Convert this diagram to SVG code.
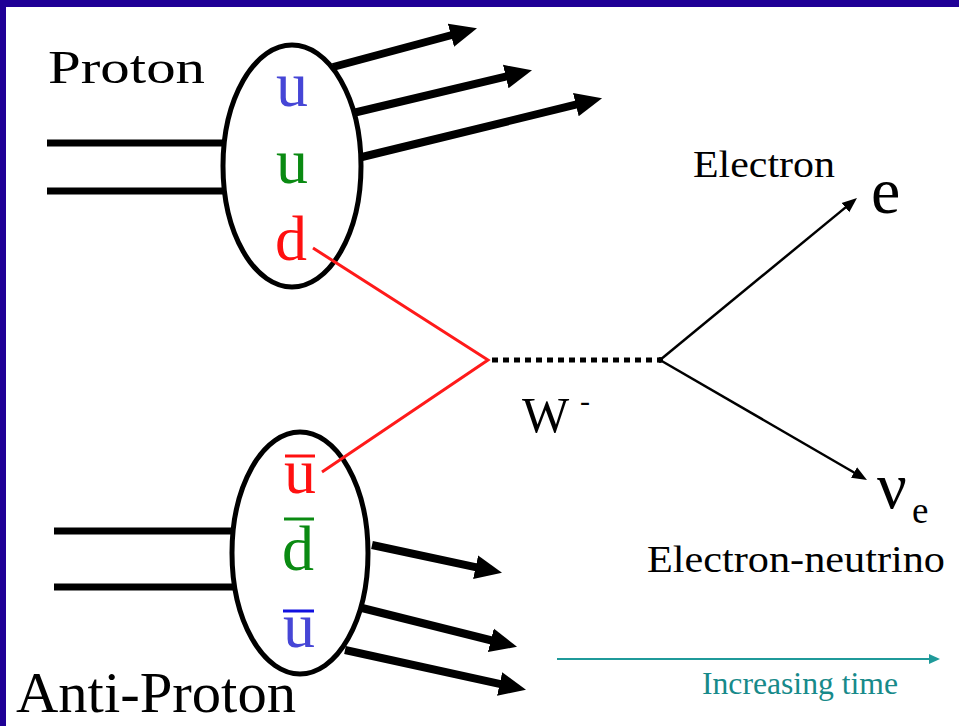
<svg xmlns="http://www.w3.org/2000/svg" width="959" height="726" viewBox="0 0 959 726">
<style>
.lbl{font-family:"Liberation Serif","Times New Roman",serif;fill:#000}
.q{font-family:"Liberation Serif","Times New Roman",serif;font-size:64px}
.blue{fill:#4646d6}
.green{fill:#0a8a12}
.red{fill:#ff1010}
.beam{stroke:#000;stroke-width:7;fill:none}
.had{fill:#fff;stroke:#000;stroke-width:5}
.jet{stroke:#000;stroke-width:8;fill:none;marker-end:url(#big)}
.lep{stroke:#000;stroke-width:2.5;fill:none;marker-end:url(#small)}
.quark{stroke:#ff1a1a;stroke-width:3;fill:none}
</style>
<defs>
<marker id="big" markerUnits="userSpaceOnUse" viewBox="0 -13 29 26" markerWidth="29" markerHeight="26" refX="1" refY="0" orient="auto"><path d="M0,-12 L27,0 L0,12 z" fill="#000"/></marker>
<marker id="small" markerUnits="userSpaceOnUse" viewBox="0 -7 16 14" markerWidth="16" markerHeight="14" refX="1" refY="0" orient="auto"><path d="M0,-6 L15,0 L0,6 z" fill="#000"/></marker>
<marker id="teal" markerUnits="userSpaceOnUse" viewBox="0 -6 12 12" markerWidth="12" markerHeight="12" refX="1" refY="0" orient="auto"><path d="M0,-5 L11,0 L0,5 z" fill="#1f9a9a"/></marker>
</defs>
<rect x="0" y="0" width="959" height="726" fill="#1f0096"/>
<rect x="6" y="7" width="953" height="719" fill="#fff"/>

<g id="proton">
<line class="beam" x1="47" y1="143" x2="228" y2="143"/>
<line class="beam" x1="47" y1="191" x2="228" y2="191"/>
<ellipse class="had" cx="292" cy="166" rx="69" ry="121"/>
<text class="q blue" x="276" y="106">u</text>
<text class="q green" x="276" y="183">u</text>
<text class="q red" x="275" y="260">d</text>
<text class="lbl" x="48" y="83" font-size="46" textLength="157" lengthAdjust="spacingAndGlyphs">Proton</text>
</g>

<g id="antiproton">
<line class="beam" x1="54" y1="531" x2="236" y2="531"/>
<line class="beam" x1="54" y1="587" x2="236" y2="587"/>
<ellipse class="had" cx="300" cy="553" rx="68" ry="121"/>
<text class="q red" x="284" y="493">u</text>
<line x1="285" y1="456" x2="315" y2="456" stroke="#ff1010" stroke-width="3"/>
<text class="q green" x="282" y="570">d</text>
<line x1="284" y1="519" x2="314" y2="519" stroke="#0a8a12" stroke-width="3"/>
<text class="q blue" x="283" y="647">u</text>
<line x1="283" y1="611" x2="314" y2="611" stroke="#1010e0" stroke-width="3"/>
<text class="lbl" x="16" y="712" font-size="57" textLength="280" lengthAdjust="spacingAndGlyphs">Anti-Proton</text>
</g>

<g id="w-boson">
<text class="lbl" x="522" y="432" font-size="50">W</text>
<text class="lbl" x="580" y="411" font-size="30">-</text>
</g>

<g id="electron">
<text class="lbl" x="693" y="177" font-size="38" textLength="142" lengthAdjust="spacingAndGlyphs">Electron</text>
<text class="lbl" x="871" y="213" font-size="66">e</text>
</g>

<g id="neutrino">
<text class="lbl" x="877" y="508" font-size="66">ν</text>
<text class="lbl" x="912" y="523" font-size="37">e</text>
<text class="lbl" x="647" y="572" font-size="38" textLength="298" lengthAdjust="spacingAndGlyphs">Electron-neutrino</text>
</g>

<g id="time">
<line x1="557" y1="659" x2="930" y2="659" stroke="#1f9a9a" stroke-width="2" marker-end="url(#teal)"/>
<text x="702" y="694" font-family="Liberation Serif, Times New Roman, serif" font-size="31" fill="#178a8a" textLength="196" lengthAdjust="spacingAndGlyphs">Increasing time</text>
</g>

<g id="connectors">
<line class="jet" x1="333" y1="67" x2="451.9" y2="35"/>
<line class="jet" x1="353" y1="113" x2="506.7" y2="76.3"/>
<line class="jet" x1="362" y1="157" x2="576.8" y2="104.4"/>
<line class="jet" x1="372" y1="545" x2="476.6" y2="567.4"/>
<line class="jet" x1="362" y1="608" x2="491.8" y2="640.5"/>
<line class="jet" x1="345" y1="650" x2="500.6" y2="684.2"/>
<polyline class="quark" points="313,248 488,360 322,472"/>
<line x1="492" y1="360" x2="658" y2="360" stroke="#000" stroke-width="5" stroke-dasharray="6 5"/>
<circle cx="660" cy="360" r="3" fill="#000"/>
<line class="lep" x1="660" y1="360" x2="846.2" y2="206.9"/>
<line class="lep" x1="660" y1="360" x2="854.9" y2="473"/>
</g>
</svg>
